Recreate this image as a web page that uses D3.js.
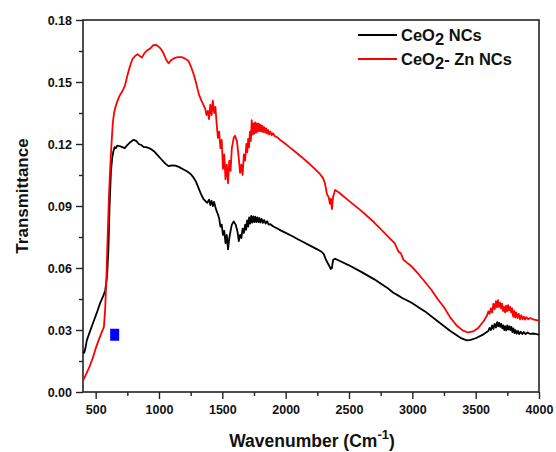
<!DOCTYPE html>
<html>
<head>
<meta charset="utf-8">
<script src="https://cdn.jsdelivr.net/npm/d3@7"></script>
<style>
  html, body { margin: 0; padding: 0; background: #fff; }
  svg { display: block; }
  text { font-family: "Liberation Sans", Arial, sans-serif; font-weight: bold; fill: #111; }
</style>
</head>
<body>
<svg id="chart" width="556" height="452"></svg>
<script>
// FTIR transmittance spectra: [wavenumber (cm^-1), transmittance]
const ceo2Spectrum = [
  [400,0.0195],[410,0.0190],[420,0.0215],[430,0.0250],[450,0.0285],[480,0.0335],[510,0.0385],[535,0.0430],
  [560,0.0465],[575,0.0490],[590,0.0560],[600,0.0680],[610,0.0900],[620,0.1060],[630,0.1130],[640,0.1165],
  [650,0.1185],[660,0.1180],[670,0.1192],[690,0.1190],[710,0.1185],[730,0.1180],[750,0.1195],[775,0.1210],
  [800,0.1220],[820,0.1215],[840,0.1200],[860,0.1195],[880,0.1185],[900,0.1185],[930,0.1178],[960,0.1165],
  [990,0.1145],[1020,0.1125],[1050,0.1105],[1075,0.1093],[1100,0.1097],[1130,0.1095],[1160,0.1088],[1190,0.1078],
  [1220,0.1068],[1250,0.1055],[1270,0.1040],[1290,0.1020],[1310,0.0990],[1330,0.0960],[1350,0.0935],[1365,0.0925],
  [1380,0.0915],[1395,0.0930],[1405,0.0905],[1415,0.0925],[1425,0.0900],[1435,0.0920],[1445,0.0895],[1455,0.0875],
  [1465,0.0860],[1475,0.0840],[1485,0.0800],[1495,0.0810],[1505,0.0760],[1515,0.0780],[1525,0.0720],[1535,0.0760],
  [1545,0.0690],[1555,0.0745],[1565,0.0780],[1575,0.0810],[1590,0.0825],[1605,0.0810],[1620,0.0775],[1630,0.0730],
  [1640,0.0760],[1650,0.0745],[1660,0.0790],[1670,0.0770],[1680,0.0810],[1688,0.0785],[1696,0.0830],[1704,0.0800],
  [1712,0.0845],[1720,0.0815],[1728,0.0852],[1736,0.0820],[1744,0.0850],[1752,0.0822],[1760,0.0848],[1768,0.0822],
  [1776,0.0845],[1784,0.0822],[1792,0.0842],[1800,0.0820],[1810,0.0838],[1820,0.0818],[1830,0.0832],[1842,0.0815],
  [1854,0.0826],[1866,0.0810],[1880,0.0812],[1900,0.0802],[1930,0.0792],[1960,0.0782],[2000,0.0770],[2050,0.0755],
  [2100,0.0738],[2150,0.0722],[2200,0.0706],[2250,0.0690],[2280,0.0680],[2300,0.0668],[2315,0.0645],[2330,0.0625],
  [2345,0.0610],[2355,0.0595],[2365,0.0600],[2375,0.0640],[2390,0.0645],[2420,0.0636],[2500,0.0613],[2600,0.0580],
  [2700,0.0545],[2800,0.0505],[2850,0.0480],[2880,0.0470],[2920,0.0455],[2960,0.0443],[3000,0.0430],[3100,0.0390],
  [3200,0.0342],[3300,0.0295],[3380,0.0262],[3430,0.0250],[3460,0.0252],[3500,0.0260],[3550,0.0275],[3600,0.0295],
  [3610,0.0310],[3620,0.0300],[3630,0.0322],[3640,0.0305],[3650,0.0330],[3660,0.0312],[3670,0.0338],[3678,0.0318],
  [3686,0.0335],[3694,0.0315],[3702,0.0330],[3710,0.0308],[3718,0.0322],[3726,0.0300],[3734,0.0318],[3742,0.0298],
  [3750,0.0322],[3758,0.0302],[3766,0.0318],[3774,0.0300],[3782,0.0315],[3790,0.0290],[3798,0.0308],[3806,0.0285],
  [3814,0.0300],[3824,0.0282],[3834,0.0296],[3844,0.0280],[3856,0.0292],[3868,0.0280],[3880,0.0290],[3895,0.0280],
  [3910,0.0288],[3930,0.0281],[3960,0.0283],[4000,0.0278]
];

const znSpectrum = [
  [400,0.0055],[420,0.0080],[450,0.0120],[480,0.0170],[500,0.0210],[520,0.0245],[545,0.0285],[565,0.0315],
  [575,0.0400],[585,0.0560],[595,0.0760],[605,0.0950],[615,0.1090],[625,0.1200],[635,0.1300],[645,0.1350],
  [655,0.1375],[670,0.1405],[690,0.1435],[710,0.1455],[730,0.1480],[750,0.1530],[770,0.1575],[790,0.1610],
  [810,0.1625],[830,0.1635],[850,0.1625],[865,0.1618],[885,0.1640],[905,0.1652],[930,0.1662],[955,0.1678],
  [975,0.1680],[995,0.1672],[1015,0.1660],[1035,0.1640],[1055,0.1610],[1075,0.1590],[1095,0.1605],[1120,0.1615],
  [1150,0.1620],[1180,0.1620],[1210,0.1612],[1235,0.1600],[1255,0.1570],[1275,0.1535],[1295,0.1490],[1315,0.1440],
  [1335,0.1410],[1350,0.1390],[1365,0.1370],[1375,0.1340],[1385,0.1360],[1395,0.1320],[1405,0.1390],[1415,0.1340],
  [1425,0.1410],[1435,0.1350],[1445,0.1380],[1455,0.1300],[1465,0.1230],[1475,0.1260],[1485,0.1180],[1495,0.1220],
  [1505,0.1080],[1515,0.1150],[1525,0.1030],[1535,0.1100],[1545,0.1010],[1555,0.1120],[1565,0.1070],[1575,0.1180],
  [1590,0.1230],[1600,0.1240],[1615,0.1215],[1630,0.1130],[1640,0.1060],[1650,0.1100],[1660,0.1050],[1670,0.1150],
  [1680,0.1120],[1690,0.1200],[1697,0.1160],[1704,0.1225],[1711,0.1185],[1718,0.1260],[1725,0.1215],[1732,0.1315],
  [1739,0.1245],[1746,0.1300],[1753,0.1250],[1760,0.1305],[1767,0.1255],[1774,0.1300],[1781,0.1260],[1788,0.1298],
  [1795,0.1262],[1802,0.1292],[1809,0.1260],[1816,0.1288],[1823,0.1258],[1830,0.1282],[1838,0.1255],[1846,0.1276],
  [1854,0.1250],[1862,0.1268],[1870,0.1246],[1880,0.1260],[1890,0.1242],[1900,0.1252],[1915,0.1238],[1940,0.1230],
  [1960,0.1218],[1990,0.1205],[2030,0.1185],[2080,0.1160],[2130,0.1135],[2180,0.1108],[2230,0.1080],[2270,0.1055],
  [2295,0.1035],[2310,0.1010],[2325,0.0960],[2340,0.0940],[2350,0.0910],[2358,0.0935],[2365,0.0885],[2375,0.0945],
  [2390,0.0978],[2420,0.0965],[2500,0.0925],[2600,0.0875],[2700,0.0820],[2780,0.0770],[2820,0.0745],[2860,0.0720],
  [2890,0.0680],[2910,0.0670],[2930,0.0640],[2960,0.0625],[2990,0.0610],[3050,0.0570],[3100,0.0532],[3150,0.0495],
  [3200,0.0450],[3250,0.0410],[3300,0.0360],[3350,0.0322],[3400,0.0297],[3440,0.0288],[3480,0.0293],[3520,0.0310],
  [3560,0.0340],[3590,0.0370],[3600,0.0390],[3610,0.0378],[3620,0.0405],[3630,0.0385],[3640,0.0428],[3650,0.0400],
  [3660,0.0440],[3668,0.0410],[3676,0.0445],[3684,0.0412],[3692,0.0432],[3700,0.0405],[3708,0.0428],[3716,0.0392],
  [3724,0.0412],[3732,0.0385],[3740,0.0418],[3748,0.0390],[3756,0.0420],[3764,0.0395],[3772,0.0412],[3780,0.0385],
  [3788,0.0405],[3796,0.0365],[3804,0.0392],[3812,0.0360],[3820,0.0385],[3830,0.0358],[3840,0.0378],[3850,0.0352],
  [3860,0.0372],[3870,0.0352],[3880,0.0365],[3890,0.0350],[3900,0.0362],[3915,0.0352],[3930,0.0358],[3960,0.0350],
  [4000,0.0345]
];

// small square marker: [wavenumber, transmittance]
const markerPoints = [[650, 0.0277]];

const xTicks = [500,1000,1500,2000,2500,3000,3500,4000];
const xMinorTicks = [750,1250,1750,2250,2750,3250,3750];
const yTicks = [0.00,0.03,0.06,0.09,0.12,0.15,0.18];
const yMinorTicks = [0.015,0.045,0.075,0.105,0.135,0.165];

const seriesSuffixes = [" NCs", "- Zn NCs"];
const seriesColors = ["#000000", "#ff0000"];

const margin = { top: 20, left: 83, right: 17, bottom: 60 };
const W = 556, H = 452;
const innerW = W - margin.left - margin.right;   // 456
const innerH = H - margin.top - margin.bottom;   // 372

const svg = d3.select("#chart");
const g = svg.append("g").attr("transform", `translate(${margin.left},${margin.top})`);

const x = d3.scaleLinear().domain([400, 4000]).range([0, innerW]);
const y = d3.scaleLinear().domain([0, 0.18]).range([innerH, 0]);

// plot frame
g.append("rect")
  .attr("x", 0).attr("y", 0).attr("width", innerW).attr("height", innerH)
  .attr("fill", "none").attr("stroke", "#222").attr("stroke-width", 1.6);

// minor ticks
g.append("g").attr("transform", `translate(0,${innerH})`)
  .call(d3.axisBottom(x).tickValues(xMinorTicks).tickSize(4).tickFormat(""))
  .call(a => a.select(".domain").remove())
  .call(a => a.selectAll("line").attr("stroke", "#222").attr("stroke-width", 1.4));
g.append("g")
  .call(d3.axisLeft(y).tickValues(yMinorTicks).tickSize(4).tickFormat(""))
  .call(a => a.select(".domain").remove())
  .call(a => a.selectAll("line").attr("stroke", "#222").attr("stroke-width", 1.4));

// major axes
const xAxis = g.append("g").attr("transform", `translate(0,${innerH})`)
  .call(d3.axisBottom(x).tickValues(xTicks).tickSize(7).tickPadding(6).tickFormat(d3.format("d")));
const yAxis = g.append("g")
  .call(d3.axisLeft(y).tickValues(yTicks).tickSize(7).tickPadding(4).tickFormat(d3.format(".2f")));
[xAxis, yAxis].forEach(a => {
  a.select(".domain").remove();
  a.selectAll("line").attr("stroke", "#222").attr("stroke-width", 1.4);
  a.selectAll("text")
    .attr("font-family", "'Liberation Sans', Arial, sans-serif")
    .attr("font-weight", "bold").attr("font-size", 12.5).attr("fill", "#111");
});

// spectra
const line = d3.line().x(d => x(d[0])).y(d => y(d[1]));
[ceo2Spectrum, znSpectrum].forEach((data, i) => {
  g.append("path").datum(data).attr("d", line)
    .attr("fill", "none").attr("stroke", seriesColors[i]).attr("stroke-width", 1.8)
    .attr("stroke-linejoin", "round");
});

// marker square
g.selectAll("rect.marker").data(markerPoints).enter().append("rect")
  .attr("class", "marker")
  .attr("x", d => x(d[0]) - 4.5)
  .attr("y", d => y(d[1]) - 6)
  .attr("width", 9).attr("height", 12)
  .attr("fill", "#0000ff");

// axis titles
const xTitle = svg.append("text")
  .attr("x", 312).attr("y", 447)
  .attr("text-anchor", "middle").attr("font-size", 17.5);
xTitle.append("tspan").text("Wavenumber (Cm");
xTitle.append("tspan").attr("dy", -8).attr("font-size", 13).text("-1");
xTitle.append("tspan").attr("dy", 8).text(")");

svg.append("text")
  .attr("transform", `translate(28,196) rotate(-90)`)
  .attr("text-anchor", "middle").attr("font-size", 17)
  .text("Transmittance");

// legend
const legend = svg.append("g");
const legendY = [35, 59];
seriesColors.forEach((color, i) => {
  legend.append("line")
    .attr("x1", 358).attr("x2", 397).attr("y1", legendY[i]).attr("y2", legendY[i])
    .attr("stroke", color).attr("stroke-width", 1.8);
  const t = legend.append("text").attr("x", 401).attr("y", legendY[i] + 6).attr("font-size", 16.5);
  t.append("tspan").text("CeO");
  t.append("tspan").attr("dy", 4).text("2");
  t.append("tspan").attr("dy", -4).text(seriesSuffixes[i]);
});
</script>
</body>
</html>
